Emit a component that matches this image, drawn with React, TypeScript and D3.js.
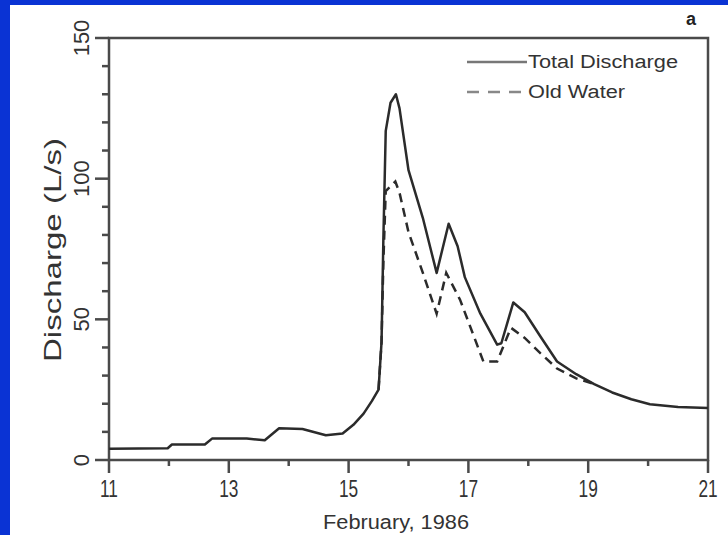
import React, { useEffect, useRef } from 'react';
import * as d3 from 'd3';

// Days of February 1986 and discharge (L/s)
const totalDays = [11, 11.98, 12.05, 12.6, 12.72, 13.3, 13.6, 13.84, 14.23, 14.62, 14.9, 15.08, 15.25, 15.39, 15.5, 15.55, 15.58, 15.62, 15.7, 15.79, 15.85, 16.0, 16.24, 16.47, 16.67, 16.82, 16.94, 17.2, 17.48, 17.55, 17.75, 17.94, 18.2, 18.48, 18.8, 19.1, 19.4, 19.72, 20.03, 20.5, 21];
const totalFlow = [4, 4.2, 5.5, 5.5, 7.6, 7.6, 7, 11.3, 11, 8.8, 9.4, 12.5, 16.5, 21, 25, 42, 78, 117, 127, 130, 125, 103, 86, 66.5, 84, 76, 65, 52, 41, 41.5, 56, 52.5, 44, 35, 30.5, 27, 24, 21.6, 19.8, 18.8, 18.5];

const oldDays = [15.5, 15.55, 15.58, 15.62, 15.78, 15.85, 16.0, 16.24, 16.47, 16.63, 16.86, 17.25, 17.48, 17.71, 17.94, 18.2, 18.48, 18.8, 19.1];
const oldFlow = [25, 42, 70, 95.6, 99, 95, 81, 66.5, 52, 66.5, 57, 35, 35, 47, 43.4, 38, 32.5, 29, 27];

const xMajor = [11, 13, 15, 17, 19, 21];
const xMinor = [12, 14, 16, 18, 20];
const yMajor = [0, 50, 100, 150];
const yMinor = [10, 20, 30, 40, 60, 70, 80, 90, 110, 120, 130, 140];

const seriesNames = ['Total Discharge', 'Old Water'];

const App = () => {
  const svgRef = useRef<SVGSVGElement>(null);

  useEffect(() => {
    if (!svgRef.current) return;
    const svg = d3.select(svgRef.current);
    svg.selectAll('*').remove();

    const width = 728;
    const height = 535;
    const ink = '#2b2b2b';
    const axisInk = '#4a4a4a';
    const font = "'Liberation Sans', Arial, sans-serif";

    // blue slide background with the scanned page on it
    svg.append('rect').attr('width', width).attr('height', height).attr('fill', '#0a33d4');
    svg.append('rect').attr('x', 10).attr('y', 5).attr('width', width - 10).attr('height', height - 5).attr('fill', '#ffffff');

    const x = d3.scaleLinear().domain([11, 21]).range([109, 708]);
    const y = d3.scaleLinear().domain([0, 150]).range([460, 38]);

    // frame
    const g = svg.append('g');
    g.append('rect')
      .attr('x', x(11)).attr('y', y(150))
      .attr('width', x(21) - x(11)).attr('height', y(0) - y(150))
      .attr('fill', 'none').attr('stroke', axisInk).attr('stroke-width', 2.5);

    // y ticks
    g.selectAll('.ymaj').data(yMajor).enter().append('line')
      .attr('x1', x(11) - 14).attr('x2', x(11))
      .attr('y1', d => y(d)).attr('y2', d => y(d))
      .attr('stroke', axisInk).attr('stroke-width', 2.5);
    g.selectAll('.ymin').data(yMinor).enter().append('line')
      .attr('x1', x(11) - 7).attr('x2', x(11))
      .attr('y1', d => y(d)).attr('y2', d => y(d))
      .attr('stroke', axisInk).attr('stroke-width', 2.5);

    g.selectAll('.ylab').data(yMajor).enter().append('text')
      .attr('transform', d => `translate(89, ${y(d)}) rotate(-90)`)
      .attr('text-anchor', 'middle')
      .attr('font-family', font).attr('font-size', 22)
      .attr('fill', '#333')
      .text(d => d);

    // x ticks
    g.selectAll('.xmaj').data(xMajor).enter().append('line')
      .attr('x1', d => x(d)).attr('x2', d => x(d))
      .attr('y1', y(0)).attr('y2', y(0) + 13)
      .attr('stroke', axisInk).attr('stroke-width', 2.5);
    g.selectAll('.xmin').data(xMinor).enter().append('line')
      .attr('x1', d => x(d)).attr('x2', d => x(d))
      .attr('y1', y(0)).attr('y2', y(0) + 6)
      .attr('stroke', axisInk).attr('stroke-width', 2.5);

    g.selectAll('.xlab').data(xMajor).enter().append('text')
      .attr('transform', d => `translate(${x(d)}, 497) scale(0.72, 1)`)
      .attr('text-anchor', 'middle')
      .attr('font-family', font).attr('font-size', 24)
      .attr('fill', '#333')
      .text(d => d);

    // axis titles
    svg.append('text')
      .attr('x', 396).attr('y', 529)
      .attr('text-anchor', 'middle')
      .attr('font-family', font).attr('font-size', 20)
      .attr('textLength', 146).attr('lengthAdjust', 'spacingAndGlyphs')
      .attr('fill', '#333')
      .text('February, 1986');

    svg.append('text')
      .attr('transform', 'translate(61, 250) rotate(-90)')
      .attr('text-anchor', 'middle')
      .attr('font-family', font).attr('font-size', 24)
      .attr('textLength', 224).attr('lengthAdjust', 'spacingAndGlyphs')
      .attr('fill', '#333')
      .text('Discharge  (L/s)');

    svg.append('text')
      .attr('x', 691).attr('y', 25)
      .attr('text-anchor', 'middle')
      .attr('font-family', font).attr('font-size', 18).attr('font-weight', 'bold')
      .attr('fill', '#222')
      .text('a');

    // curves
    const line = d3.line<[number, number]>()
      .x(d => x(d[0]))
      .y(d => y(d[1]));

    g.append('path')
      .datum(totalDays.map((d, i) => [d, totalFlow[i]] as [number, number]))
      .attr('d', line)
      .attr('fill', 'none').attr('stroke', ink).attr('stroke-width', 2.5)
      .attr('stroke-linejoin', 'round');

    g.append('path')
      .datum(oldDays.map((d, i) => [d, oldFlow[i]] as [number, number]))
      .attr('d', line)
      .attr('fill', 'none').attr('stroke', ink).attr('stroke-width', 2.5)
      .attr('stroke-dasharray', '9,6');

    // legend
    const legend = svg.append('g');
    seriesNames.forEach((name, i) => {
      const ly = 62 + i * 30;
      legend.append('line')
        .attr('x1', 467).attr('x2', 527).attr('y1', ly).attr('y2', ly)
        .attr('stroke', i === 0 ? '#777' : '#888').attr('stroke-width', 2.5)
        .attr('stroke-dasharray', i === 0 ? null : '12,9');
      legend.append('text')
        .attr('x', 528).attr('y', ly + 6)
        .attr('font-family', font).attr('font-size', 18)
        .attr('textLength', i === 0 ? 150 : 97).attr('lengthAdjust', 'spacingAndGlyphs')
        .attr('fill', '#333')
        .text(name);
    });
  }, []);

  return (
    <svg
      ref={svgRef}
      width={728}
      height={535}
      style={{ position: 'absolute', left: 0, top: 0, display: 'block' }}
    />
  );
};

export default App;
